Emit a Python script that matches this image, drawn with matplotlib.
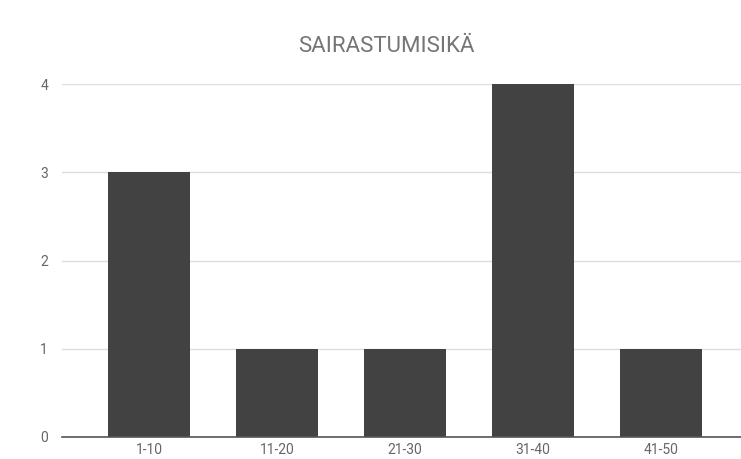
import numpy as np
import matplotlib.pyplot as plt

plt.rcParams['font.family'] = ['Roboto', 'DejaVu Sans']

categories = ['1-10', '11-20', '21-30', '31-40', '41-50']
counts = [3, 1, 1, 4, 1]
title = 'SAIRASTUMISIKÄ'

fig = plt.figure(figsize=(7.41, 4.59), dpi=100)
ax = fig.add_axes([62 / 741, 1 - 437 / 459, 686 / 741, (437 - 84) / 459])

x = np.arange(len(categories))
ax.bar(x, counts, width=0.64, color='#424242', zorder=3)

ax.set_xlim(-0.68, 4.68)
ax.set_ylim(0, 4)
ax.set_yticks(range(5))
ax.set_xticks(x)
ax.set_xticklabels(categories)
ax.grid(axis='y', color='#dddddd', linewidth=1, zorder=0)
for s in ['top', 'right', 'left']:
    ax.spines[s].set_visible(False)
ax.spines['bottom'].set_color('#555555')
ax.spines['bottom'].set_linewidth(1.2)
ax.spines['bottom'].set_zorder(4)
ax.tick_params(axis='both', length=0, labelsize=10, labelcolor='#666666')
ax.tick_params(axis='y', pad=10)
ax.tick_params(axis='x', pad=4)

fig.text(386 / 741, 1 - 47 / 459, title, ha='center', va='center',
         fontsize=16, color='#757575')

fig.savefig('out.png', dpi=100)
